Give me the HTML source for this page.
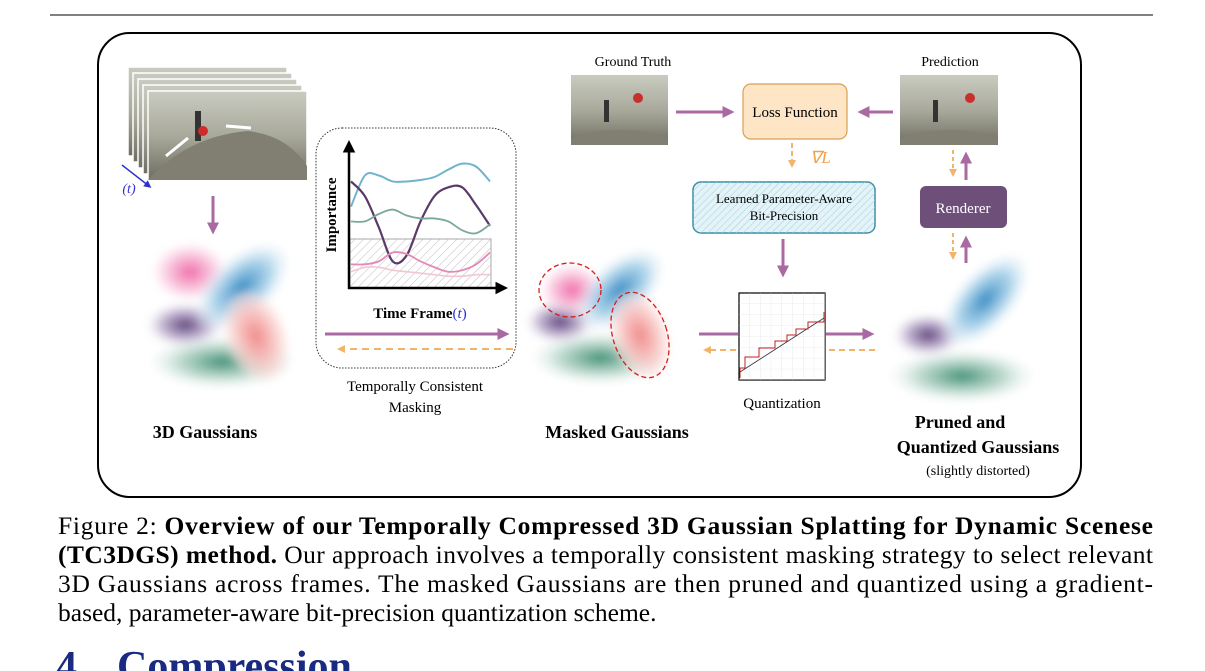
<!DOCTYPE html>
<html><head><meta charset="utf-8"><style>
html,body{margin:0;padding:0;background:#fff;}
svg{display:block;font-family:"Liberation Serif",serif;}
</style></head><body>
<svg id="fig" width="1205" height="671" viewBox="0 0 1205 671" xmlns="http://www.w3.org/2000/svg">
<defs>
  <filter id="blur" x="-50%" y="-50%" width="200%" height="200%"><feGaussianBlur stdDeviation="4"/></filter>
  <radialGradient id="gBlue"><stop offset="0" stop-color="#3a8cc4"/><stop offset="0.6" stop-color="#9ccbe6" stop-opacity="0.8"/><stop offset="1" stop-color="#e3f0f8" stop-opacity="0.2"/></radialGradient>
  <radialGradient id="gPink"><stop offset="0" stop-color="#f06aa8"/><stop offset="0.6" stop-color="#f7b5d3" stop-opacity="0.8"/><stop offset="1" stop-color="#fbd8ea" stop-opacity="0.2"/></radialGradient>
  <radialGradient id="gSalmon"><stop offset="0" stop-color="#f08a8a"/><stop offset="0.6" stop-color="#f8c6c4" stop-opacity="0.9"/><stop offset="1" stop-color="#fde4e2" stop-opacity="0.4"/></radialGradient>
  <radialGradient id="gPurple"><stop offset="0" stop-color="#5b3f78"/><stop offset="0.6" stop-color="#a895bd" stop-opacity="0.7"/><stop offset="1" stop-color="#e0d8ea" stop-opacity="0.1"/></radialGradient>
  <radialGradient id="gGreen"><stop offset="0" stop-color="#3f8f74"/><stop offset="0.6" stop-color="#a6ccbd" stop-opacity="0.7"/><stop offset="1" stop-color="#e3f0ea" stop-opacity="0.1"/></radialGradient>
  <linearGradient id="photo" x1="0" y1="0" x2="0" y2="1"><stop offset="0" stop-color="#c9cbc0"/><stop offset="0.5" stop-color="#a9aa9c"/><stop offset="1" stop-color="#6e6d62"/></linearGradient>
  <clipPath id="clipGT"><rect x="571" y="75" width="97" height="70"/></clipPath>
  <clipPath id="clipPR"><rect x="900" y="75" width="98" height="70"/></clipPath>
  <pattern id="hatch" width="6" height="6" patternUnits="userSpaceOnUse" patternTransform="rotate(45)"><line x1="0" y1="0" x2="0" y2="6" stroke="#bbb" stroke-width="1"/></pattern>
  <pattern id="hatchB" width="5" height="5" patternUnits="userSpaceOnUse" patternTransform="rotate(45)"><line x1="0" y1="0" x2="0" y2="5" stroke="#9fd0de" stroke-width="1"/></pattern>
  <pattern id="grid" width="10.75" height="10.9" patternUnits="userSpaceOnUse" x="739" y="293"><path d="M10.75 0V10.9H0" fill="none" stroke="#ddd" stroke-width="0.6"/></pattern>
  <marker id="ahP" markerWidth="4" markerHeight="4" refX="2.5" refY="2" orient="auto" markerUnits="strokeWidth"><path d="M0,0 L4,2 L0,4 Z" fill="#a86aa0"/></marker>
  <marker id="ahO" markerWidth="4" markerHeight="4" refX="2.5" refY="2" orient="auto" markerUnits="strokeWidth"><path d="M0,0 L4,2 L0,4 Z" fill="#f2b36a"/></marker>
  <marker id="ahK" markerWidth="5" markerHeight="5" refX="3" refY="2.5" orient="auto" markerUnits="strokeWidth"><path d="M0,0 L5,2.5 L0,5 Z" fill="#000"/></marker>
  <marker id="ahBl" markerWidth="5" markerHeight="5" refX="3" refY="2.5" orient="auto" markerUnits="strokeWidth"><path d="M0,0 L5,2.5 L0,5 Z" fill="#3030d0"/></marker>
</defs>

<line x1="50" y1="15" x2="1153" y2="15" stroke="#000" stroke-width="1"/>
<rect x="98" y="33" width="983" height="464" rx="32" fill="none" stroke="#000" stroke-width="2"/>

<g>
  <g id="frames"></g>
  <line x1="122" y1="165" x2="149" y2="186" stroke="#3030d0" stroke-width="1.5" marker-end="url(#ahBl)"/>
  <text x="129" y="193" font-size="14" fill="#3030d0" text-anchor="middle" font-style="italic">(t)</text>
</g>
<line x1="213" y1="196" x2="213" y2="230" stroke="#a86aa0" stroke-width="3" marker-end="url(#ahP)"/>

<g filter="url(#blur)">
  <ellipse cx="222" cy="362" rx="72" ry="26" fill="url(#gGreen)"/>
  <ellipse cx="185" cy="325" rx="38" ry="22" fill="url(#gPurple)"/>
  <ellipse cx="190" cy="272" rx="36" ry="28" fill="url(#gPink)"/>
  <ellipse cx="242" cy="287" rx="56" ry="30" fill="url(#gBlue)" transform="rotate(-42 242 287)"/>
  <ellipse cx="256" cy="336" rx="30" ry="46" fill="url(#gSalmon)" transform="rotate(-20 256 336)"/>
</g>
<text x="205" y="438" font-size="18" font-weight="bold" text-anchor="middle">3D Gaussians</text>

<rect x="316" y="128" width="200" height="240" rx="26" fill="none" stroke="#333" stroke-width="1" stroke-dasharray="1.5 1.5"/>
<g id="chart">
  <rect x="350" y="239" width="141" height="49" fill="url(#hatch)" stroke="#aaa" stroke-width="1"/>
  <g id="curves"></g>
  <line x1="349" y1="289" x2="349" y2="145" stroke="#000" stroke-width="2.5" marker-end="url(#ahK)"/>
  <line x1="348" y1="288" x2="503" y2="288" stroke="#000" stroke-width="2.5" marker-end="url(#ahK)"/>
  <text transform="translate(336 215) rotate(-90)" font-size="15" font-weight="bold" text-anchor="middle">Importance</text>
  <text x="420" y="318" font-size="15" font-weight="bold" text-anchor="middle">Time Frame<tspan font-weight="normal" fill="#3030d0">(<tspan font-style="italic">t</tspan>)</tspan></text>
</g>
<line x1="325" y1="334" x2="505" y2="334" stroke="#a86aa0" stroke-width="3" marker-end="url(#ahP)"/>
<line x1="513" y1="349" x2="340" y2="349" stroke="#f2b36a" stroke-width="2" stroke-dasharray="7 5" marker-end="url(#ahO)"/>
<text x="415" y="391" font-size="15" text-anchor="middle">Temporally Consistent</text>
<text x="415" y="412" font-size="15" text-anchor="middle">Masking</text>

<g>
  <g filter="url(#blur)">
    <ellipse cx="600" cy="358" rx="68" ry="26" fill="url(#gGreen)"/>
    <ellipse cx="560" cy="322" rx="34" ry="21" fill="url(#gPurple)"/>
    <ellipse cx="572" cy="290" rx="30" ry="25" fill="url(#gPink)"/>
    <ellipse cx="620" cy="290" rx="52" ry="28" fill="url(#gBlue)" transform="rotate(-42 620 290)"/>
    <ellipse cx="640" cy="335" rx="28" ry="44" fill="url(#gSalmon)" transform="rotate(-18 640 335)"/>
  </g>
  <ellipse cx="570" cy="290" rx="31" ry="27" fill="none" stroke="#d02020" stroke-width="1.3" stroke-dasharray="5 3"/>
  <ellipse cx="640" cy="335" rx="27" ry="44" fill="none" stroke="#d02020" stroke-width="1.3" stroke-dasharray="5 3" transform="rotate(-18 640 335)"/>
</g>
<text x="617" y="438" font-size="18" font-weight="bold" text-anchor="middle">Masked Gaussians</text>

<text x="633" y="66" font-size="14" text-anchor="middle">Ground Truth</text>
<g clip-path="url(#clipGT)">
  <rect x="571" y="75" width="97" height="70" fill="url(#photo)"/>
  <ellipse cx="620" cy="150" rx="60" ry="20" fill="#807f72"/>
  <rect x="604" y="100" width="5" height="22" fill="#333"/><circle cx="638" cy="98" r="5" fill="#c8302a"/>
</g>
<text x="950" y="66" font-size="14" text-anchor="middle">Prediction</text>
<g clip-path="url(#clipPR)">
  <rect x="900" y="75" width="98" height="70" fill="url(#photo)"/>
  <ellipse cx="950" cy="150" rx="60" ry="20" fill="#807f72"/>
  <rect x="933" y="100" width="5" height="22" fill="#333"/><circle cx="970" cy="98" r="5" fill="#c8302a"/>
</g>
<line x1="676" y1="112" x2="730" y2="112" stroke="#a86aa0" stroke-width="3" marker-end="url(#ahP)"/>
<line x1="893" y1="112" x2="862" y2="112" stroke="#a86aa0" stroke-width="3" marker-end="url(#ahP)"/>
<rect x="743" y="84" width="104" height="55" rx="8" fill="#fde5c6" stroke="#d9a050" stroke-width="1.2"/>
<text x="795" y="117" font-size="15" text-anchor="middle">Loss Function</text>
<line x1="792" y1="143" x2="792" y2="165" stroke="#f2b36a" stroke-width="2" stroke-dasharray="5 3" marker-end="url(#ahO)"/>
<text x="810" y="163" font-size="17" fill="#f2a050" font-style="italic">∇L</text>

<rect x="693" y="182" width="182" height="51" rx="8" fill="#e4f3f7" stroke="#3a8fa8" stroke-width="1.5"/>
<rect x="693" y="182" width="182" height="51" rx="8" fill="url(#hatchB)"/>
<text x="784" y="203" font-size="13" text-anchor="middle">Learned Parameter-Aware</text>
<text x="784" y="220" font-size="13" text-anchor="middle">Bit-Precision</text>
<line x1="783" y1="239" x2="783" y2="273" stroke="#a86aa0" stroke-width="3" marker-end="url(#ahP)"/>

<g>
  <rect x="739" y="293" width="86" height="87" fill="#fff" stroke="#000" stroke-width="1.2"/>
  <rect x="739" y="293" width="86" height="87" fill="url(#grid)"/>
  <line x1="740" y1="372" x2="824" y2="318" stroke="#334" stroke-width="0.8"/>
  <path d="M740,378 V368 H745 V357 H759 V348 H775 V341 H787 V335 H796 V329 H808 V322 H824 V312" fill="none" stroke="#c02020" stroke-width="1"/>
</g>
<text x="782" y="408" font-size="15" text-anchor="middle">Quantization</text>
<line x1="699" y1="334" x2="738" y2="334" stroke="#a86aa0" stroke-width="3"/>
<line x1="826" y1="334" x2="870" y2="334" stroke="#a86aa0" stroke-width="3" marker-end="url(#ahP)"/>
<line x1="736" y1="350" x2="706" y2="350" stroke="#f2b36a" stroke-width="2" stroke-dasharray="6 4" marker-end="url(#ahO)"/>
<line x1="875" y1="350" x2="828" y2="350" stroke="#f2b36a" stroke-width="2" stroke-dasharray="6 4"/>

<rect x="920" y="186" width="87" height="42" rx="6" fill="#6e4f7a"/>
<text x="963" y="213" font-size="15" fill="#fff" text-anchor="middle">Renderer</text>
<line x1="966" y1="180" x2="966" y2="156" stroke="#a86aa0" stroke-width="3" marker-end="url(#ahP)"/>
<line x1="953" y1="150" x2="953" y2="174" stroke="#f2b36a" stroke-width="2" stroke-dasharray="4 3" marker-end="url(#ahO)"/>
<line x1="966" y1="263" x2="966" y2="240" stroke="#a86aa0" stroke-width="3" marker-end="url(#ahP)"/>
<line x1="953" y1="233" x2="953" y2="257" stroke="#f2b36a" stroke-width="2" stroke-dasharray="4 3" marker-end="url(#ahO)"/>

<g filter="url(#blur)">
  <ellipse cx="962" cy="376" rx="72" ry="26" fill="url(#gGreen)"/>
  <ellipse cx="928" cy="335" rx="34" ry="21" fill="url(#gPurple)"/>
  <ellipse cx="985" cy="300" rx="56" ry="28" fill="url(#gBlue)" transform="rotate(-48 985 300)"/>
</g>
<text x="960" y="428" font-size="18" font-weight="bold" text-anchor="middle">Pruned and</text>
<text x="978" y="453" font-size="18" font-weight="bold" text-anchor="middle">Quantized Gaussians</text>
<text x="978" y="475" font-size="14" text-anchor="middle">(slightly distorted)</text>

<g font-size="25.5">
  <text x="58" y="534" textLength="1095" lengthAdjust="spacing">Figure 2: <tspan font-weight="bold">Overview of our Temporally Compressed 3D Gaussian Splatting for Dynamic Scenese</tspan></text>
  <text x="58" y="563" textLength="1095" lengthAdjust="spacing"><tspan font-weight="bold">(TC3DGS) method.</tspan> Our approach involves a temporally consistent masking strategy to select relevant</text>
  <text x="58" y="592" textLength="1095" lengthAdjust="spacing">3D Gaussians across frames. The masked Gaussians are then pruned and quantized using a gradient-</text>
  <text x="58" y="621">based, parameter-aware bit-precision quantization scheme.</text>
</g>
<text x="56" y="680" font-size="42" font-weight="bold" fill="#1a2a80">4<tspan dx="40">Compression</tspan></text>
</svg>
<script>
// importance-chart data
const timeFrames = [0,1,2,3,4,5,6,7,8,9,10];
const seriesBlue   = [.55,.76,.76,.72,.72,.73,.75,.80,.84,.82,.72];
const seriesPurple = [.72,.62,.41,.18,.22,.45,.62,.68,.68,.56,.42];
const seriesTeal   = [.45,.45,.50,.53,.49,.47,.47,.45,.39,.37,.43];
const seriesPink   = [.16,.16,.18,.24,.23,.18,.14,.11,.12,.16,.24];
const seriesLight  = [.11,.14,.14,.12,.11,.10,.09,.08,.08,.09,.09];
const seriesNames  = ['blue','purple','teal','pink','light-pink'];

const NS = 'http://www.w3.org/2000/svg';
const xScale = t => 351 + t * 13.9;
const yScale = v => 288 - v * 148;
function smoothPath(vals){
  const p = vals.map((v,i)=>[xScale(timeFrames[i]), yScale(v)]);
  let d = 'M' + p[0][0] + ',' + p[0][1];
  for(let i=0;i<p.length-1;i++){
    const p0=p[Math.max(0,i-1)], p1=p[i], p2=p[i+1], p3=p[Math.min(p.length-1,i+2)];
    const c1=[p1[0]+(p2[0]-p0[0])/6, p1[1]+(p2[1]-p0[1])/6];
    const c2=[p2[0]-(p3[0]-p1[0])/6, p2[1]-(p3[1]-p1[1])/6];
    d += ' C'+c1+' '+c2+' '+p2;
  }
  return d;
}
const colors = ['#6fb3cc','#5a3a68','#7aa89e','#e48ab8','#f4c6d4'];
const widths = [2,2.2,1.8,1.8,1.6];
const all = [seriesBlue, seriesPurple, seriesTeal, seriesPink, seriesLight];
const cg = document.getElementById('curves');
all.forEach((s,k)=>{
  const path = document.createElementNS(NS,'path');
  path.setAttribute('d', smoothPath(s));
  path.setAttribute('fill','none');
  path.setAttribute('stroke', colors[k]);
  path.setAttribute('stroke-width', widths[k]);
  
  
  cg.appendChild(path);
});

const fg = document.getElementById('frames');
for(let i=0;i<5;i++){
  const g = document.createElementNS(NS,'g');
  
  
  const x = 128 + i*5, y = 67 + i*6;
  let inner = '<rect x="'+x+'" y="'+y+'" width="159" height="89" fill="url(#photo)" stroke="#fff" stroke-width="1.5"/>';
  if(i===4){
    inner += '<path d="M'+x+','+(y+89)+' Q'+(x+40)+','+(y+45)+' '+(x+100)+','+(y+40)+' Q'+(x+140)+','+(y+45)+' '+(x+159)+','+(y+75)+' V'+(y+89)+' Z" fill="#807f72"/>'+
    '<rect x="'+(x+47)+'" y="'+(y+20)+'" width="6" height="30" fill="#333"/><circle cx="'+(x+55)+'" cy="'+(y+40)+'" r="5" fill="#d02a2a"/>'+
    '<line x1="'+(x+18)+'" y1="'+(y+65)+'" x2="'+(x+40)+'" y2="'+(y+47)+'" stroke="#fff" stroke-width="3"/>'+
    '<line x1="'+(x+78)+'" y1="'+(y+35)+'" x2="'+(x+103)+'" y2="'+(y+37)+'" stroke="#fff" stroke-width="3"/>';
  }
  g.innerHTML = inner;
  fg.appendChild(g);
}
</script>
</body></html>
